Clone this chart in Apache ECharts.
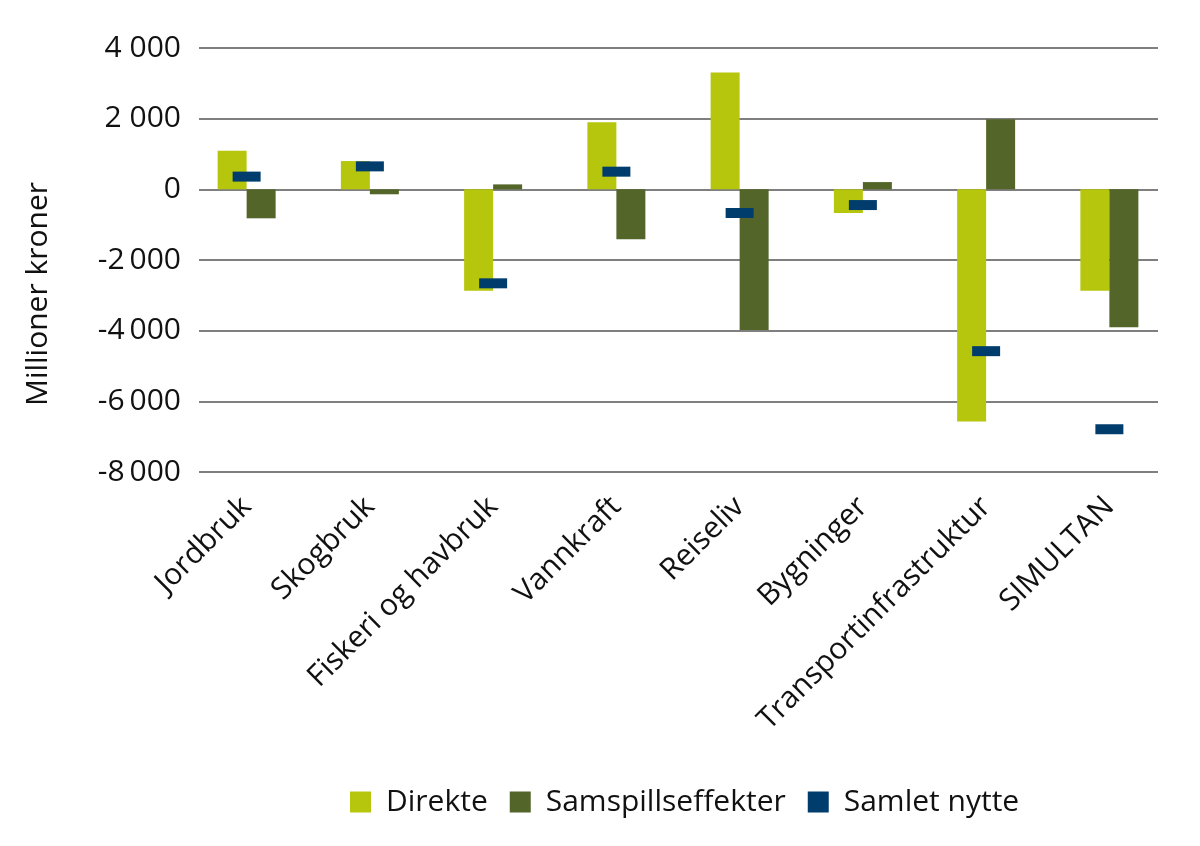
<!DOCTYPE html>
<html>
<head>
<meta charset="utf-8">
<script src="https://cdn.jsdelivr.net/npm/echarts@6/dist/echarts.min.js"></script>
<style>html,body{margin:0;padding:0;background:#fff}#c{width:1200px;height:846px}</style>
</head>
<body>
<div id="c"></div>
<script>
const categories = ['Jordbruk', 'Skogbruk', 'Fiskeri og havbruk', 'Vannkraft', 'Reiseliv', 'Bygninger', 'Transportinfrastruktur', 'SIMULTAN'];
const direkte = [1090, 800, -2870, 1900, 3310, -670, -6570, -2870];
const samspill = [-820, -140, 140, -1415, -3980, 205, 1980, -3900];
const samletNytte = [360, 650, -2660, 500, -670, -445, -4580, -6790];
const yTickValues = [4000, 2000, 0, -2000, -4000, -6000, -8000];
const yTickLabels = ['4 000', '2 000', '0', '-2\u2009000', '-4\u2009000', '-6\u2009000', '-8\u2009000'];

const FONT = 'Open Sans';
const FS = 30;
const chart = echarts.init(document.getElementById('c'));
chart.setOption({
  animation: false,
  textStyle: { fontFamily: FONT },
  grid: [
    { left: 199, right: 42, top: 48, height: 424 },
    { left: 185, right: 29, top: 48, height: 424 }
  ],
  legend: {
    left: 345, top: 782,
    itemWidth: 21, itemHeight: 21, itemGap: 22,
    textStyle: { fontFamily: FONT, fontSize: FS, color: '#111', padding: [0, 0, 0, 10] },
    data: [
      { name: 'Direkte', icon: 'rect' },
      { name: 'Samspillseffekter', icon: 'rect' },
      { name: 'Samlet nytte', icon: 'rect' }
    ]
  },
  xAxis: [
    { type: 'category', gridIndex: 0, data: categories, show: false },
    {
      type: 'category', gridIndex: 1, data: categories,
      axisLine: { show: false }, axisTick: { show: false },
      axisLabel: { rotate: 45, margin: 30, fontSize: FS, color: '#111', fontFamily: FONT, interval: 0 }
    }
  ],
  yAxis: [
    {
      type: 'value', gridIndex: 0, min: -8000, max: 4000, interval: 2000,
      name: 'Millioner kroner', nameLocation: 'middle', nameGap: 146, nameRotate: 90,
      nameTextStyle: { fontSize: FS, color: '#111', fontFamily: FONT, padding: [0, 68, 0, 0] },
      axisLine: { show: false }, axisTick: { show: false },
      axisLabel: {
        margin: 18, fontSize: FS, color: '#111', fontFamily: FONT,
        formatter: v => { const i = yTickValues.indexOf(v); return i >= 0 ? yTickLabels[i] : ''; }
      },
      splitLine: { lineStyle: { color: '#555', width: 1.5 } }
    },
    { type: 'value', gridIndex: 1, min: -8000, max: 4000, interval: 2000, show: false, splitLine: { show: false } }
  ],
  series: [
    { name: 'Direkte', type: 'bar', xAxisIndex: 1, yAxisIndex: 1, data: direkte, barWidth: 29, barGap: '0%', itemStyle: { color: '#b5c60c' } },
    { name: 'Samspillseffekter', type: 'bar', xAxisIndex: 1, yAxisIndex: 1, data: samspill, barWidth: 29, barGap: '0%', itemStyle: { color: '#536529' } },
    { name: 'Samlet nytte', type: 'scatter', xAxisIndex: 1, yAxisIndex: 1, data: samletNytte, symbol: 'rect', symbolSize: [28, 10], z: 5, itemStyle: { color: '#003d6c', opacity: 1 } }
  ]
});
</script>
</body>
</html>
